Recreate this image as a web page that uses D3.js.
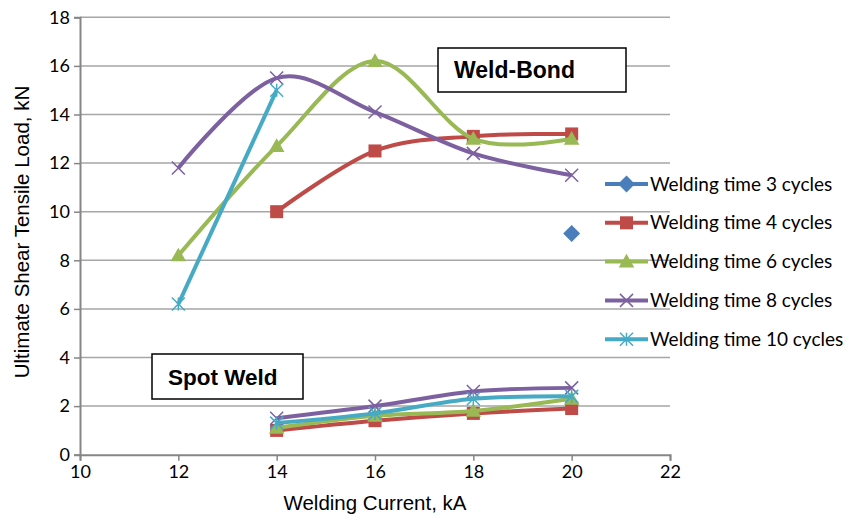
<!DOCTYPE html>
<html>
<head>
<meta charset="utf-8">
<script src="https://cdn.jsdelivr.net/npm/d3@7"></script>
<style>
  body { margin: 0; background: #fff; }
  svg { display: block; }
</style>
</head>
<body>
<div id="chart"></div>
<script>
// ---- DATA ----
const xTicks = [10, 12, 14, 16, 18, 20, 22];
const yTicks = [0, 2, 4, 6, 8, 10, 12, 14, 16, 18];

const seriesNames = [
    "Welding time 3 cycles",
    "Welding time 4 cycles",
    "Welding time 6 cycles",
    "Welding time 8 cycles",
    "Welding time 10 cycles"
];
const seriesColors = ["#4a7ebb", "#be4b48", "#98b954", "#7d60a0", "#46aac5"];
const seriesMarkers = ["diamond", "square", "triangle", "cross", "star"];

// weld-bond branch
const bondCurrent3 = [20];
const bondLoad3 = [9.1];
const bondCurrent4 = [14, 16, 18, 20];
const bondLoad4 = [10.0, 12.5, 13.1, 13.2];
const bondCurrent6 = [12, 14, 16, 18, 20];
const bondLoad6 = [8.2, 12.7, 16.2, 13.0, 13.0];
const bondCurrent8 = [12, 14, 16, 18, 20];
const bondLoad8 = [11.8, 15.5, 14.1, 12.4, 11.5];
const bondCurrent10 = [12, 14];
const bondLoad10 = [6.2, 15.0];

// spot weld branch
const spotCurrent = [14, 16, 18, 20];
const spotLoad4 = [1.0, 1.4, 1.7, 1.9];
const spotLoad6 = [1.1, 1.6, 1.8, 2.3];
const spotLoad8 = [1.5, 2.0, 2.6, 2.75];
const spotLoad10 = [1.3, 1.7, 2.3, 2.4];

const zip = (xs, ys) => xs.map((x, i) => ({x: x, y: ys[i]}));

const series = [
    {segments: [zip(bondCurrent3, bondLoad3)]},
    {segments: [zip(bondCurrent4, bondLoad4), zip(spotCurrent, spotLoad4)]},
    {segments: [zip(bondCurrent6, bondLoad6), zip(spotCurrent, spotLoad6)]},
    {segments: [zip(bondCurrent8, bondLoad8), zip(spotCurrent, spotLoad8)]},
    {segments: [zip(bondCurrent10, bondLoad10), zip(spotCurrent, spotLoad10)]}
].map((s, i) => ({...s, name: seriesNames[i], color: seriesColors[i], marker: seriesMarkers[i]}));

// ---- LAYOUT ----
const width = 858;
const height = 520;
const margin = {top: 17.3, right: 188, bottom: 65.3, left: 80};

const svg = d3.select("#chart")
    .append("svg")
    .attr("width", width)
    .attr("height", height);

const x = d3.scaleLinear()
    .domain([10, 22])
    .range([margin.left, width - margin.right]);

const y = d3.scaleLinear()
    .domain([0, 18])
    .range([height - margin.bottom, margin.top]);

const tickFont = "Lato, 'Open Sans', sans-serif";
const labelFont = "'Liberation Sans', Arial, sans-serif";
const axisGray = "#868686";

// gridlines
svg.append("g")
    .selectAll("line")
    .data(yTicks.filter(t => t > 0))
    .enter()
    .append("line")
    .attr("x1", x(10))
    .attr("x2", x(22))
    .attr("y1", d => y(d))
    .attr("y2", d => y(d))
    .attr("stroke", "#a6a6a6")
    .attr("stroke-width", 1.5);

// axes
const xAxis = svg.append("g")
    .attr("transform", `translate(0, ${y(0)})`)
    .call(d3.axisBottom(x).tickValues(xTicks).tickSize(6).tickPadding(5).tickFormat(d3.format("d")));

const yAxis = svg.append("g")
    .attr("transform", `translate(${x(10)}, 0)`)
    .call(d3.axisLeft(y).tickValues(yTicks).tickSize(6).tickPadding(4).tickFormat(d3.format("d")));

[xAxis, yAxis].forEach(g => {
    g.select(".domain").attr("stroke", axisGray).attr("stroke-width", 2);
    g.selectAll(".tick line").attr("stroke", axisGray).attr("stroke-width", 1.5);
    g.selectAll(".tick text")
        .attr("fill", "#000")
        .style("font-family", tickFont)
        .style("font-size", "18px");
});

// ---- SERIES ----
const line = d3.line()
    .x(d => x(d.x))
    .y(d => y(d.y))
    .curve(d3.curveCatmullRom.alpha(0));

function drawMarker(g, type, color, cx, cy, s) {
    if (type === "diamond") {
        g.append("path")
            .attr("d", `M${cx},${cy - s * 0.65}L${cx + s * 0.65},${cy}L${cx},${cy + s * 0.65}L${cx - s * 0.65},${cy}Z`)
            .attr("fill", color);
    } else if (type === "square") {
        g.append("rect")
            .attr("x", cx - s / 2).attr("y", cy - s / 2)
            .attr("width", s).attr("height", s)
            .attr("fill", color);
    } else if (type === "triangle") {
        g.append("path")
            .attr("d", `M${cx},${cy - s * 0.6}L${cx + s * 0.6},${cy + s * 0.45}L${cx - s * 0.6},${cy + s * 0.45}Z`)
            .attr("fill", color);
    } else if (type === "cross") {
        const h = s / 2;
        g.append("path")
            .attr("d", `M${cx - h},${cy - h}L${cx + h},${cy + h}M${cx - h},${cy + h}L${cx + h},${cy - h}`)
            .attr("stroke", color).attr("stroke-width", 1.5).attr("fill", "none");
    } else if (type === "star") {
        const h = s / 2;
        g.append("path")
            .attr("d", `M${cx - h},${cy - h}L${cx + h},${cy + h}M${cx - h},${cy + h}L${cx + h},${cy - h}M${cx},${cy - h}L${cx},${cy + h}`)
            .attr("stroke", color).attr("stroke-width", 1.5).attr("fill", "none");
    }
}

const plot = svg.append("g");

series.forEach(s => {
    const g = plot.append("g");
    s.segments.forEach(seg => {
        if (seg.length > 1) {
            g.append("path")
                .datum(seg)
                .attr("d", line)
                .attr("fill", "none")
                .attr("stroke", s.color)
                .attr("stroke-width", 4);
        }
    });
    s.segments.forEach(seg => {
        seg.forEach(p => drawMarker(g, s.marker, s.color, x(p.x), y(p.y), 13));
    });
});

// ---- ANNOTATION BOXES ----
function labelBox(x0, y0, w, h, text, size) {
    svg.append("rect")
        .attr("x", x0).attr("y", y0)
        .attr("width", w).attr("height", h)
        .attr("fill", "#fff")
        .attr("stroke", "#000")
        .attr("stroke-width", 1.5);
    svg.append("text")
        .attr("x", x0 + 16)
        .attr("y", y0 + h / 2 + 8)
        .style("font-family", labelFont)
        .style("font-weight", "bold")
        .style("font-size", size + "px")
        .text(text);
}
labelBox(438, 48, 188, 44, "Weld-Bond", 23);
labelBox(152, 354, 151, 45, "Spot Weld", 22.5);

// ---- LEGEND ----
const legend = svg.append("g");
series.forEach((s, i) => {
    const ly = 184 + i * 38.8;
    legend.append("line")
        .attr("x1", 605).attr("x2", 648)
        .attr("y1", ly).attr("y2", ly)
        .attr("stroke", s.color)
        .attr("stroke-width", 4);
    drawMarker(legend, s.marker, s.color, 626.5, ly, 13);
    legend.append("text")
        .attr("x", 650)
        .attr("y", ly + 6.5)
        .style("font-family", tickFont)
        .style("font-size", "19px")
        .text(s.name);
});

// ---- AXIS TITLES ----
svg.append("text")
    .attr("x", 375)
    .attr("y", 510)
    .attr("text-anchor", "middle")
    .style("font-family", labelFont)
    .style("font-size", "20.5px")
    .text("Welding Current, kA");

svg.append("text")
    .attr("transform", "rotate(-90)")
    .attr("x", -232)
    .attr("y", 29)
    .attr("text-anchor", "middle")
    .style("font-family", labelFont)
    .style("font-size", "20.5px")
    .text("Ultimate Shear Tensile Load, kN");
</script>
</body>
</html>
